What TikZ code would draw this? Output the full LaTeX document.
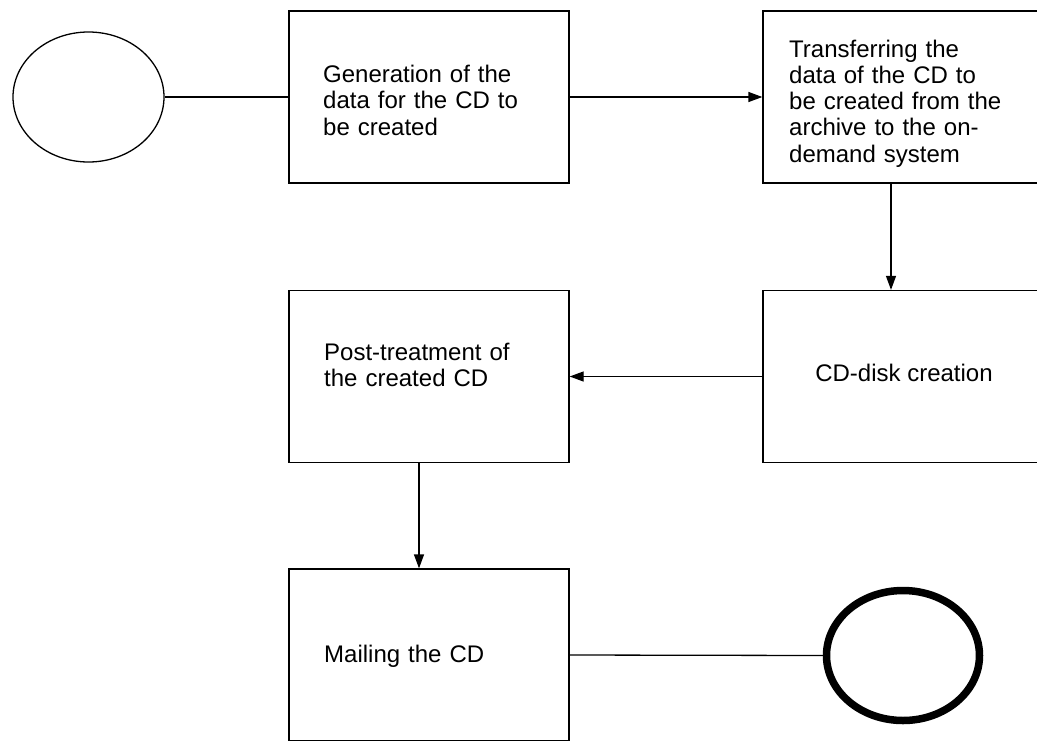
\documentclass[tikz,border=0pt]{standalone}
\usepackage{fontspec}
\setmainfont{Liberation Sans}
\usetikzlibrary{shapes.geometric,arrows.meta}
% fixed ascent for the first line of a label, so its top edge sits 18pt above the baseline
\newcommand{\firstline}{\rule{0pt}{18pt}}
\begin{document}
\begin{tikzpicture}[x=1pt,y=-1pt,
  every node/.style={font=\fontsize{24}{26.2}\selectfont},
  stepbox/.style={draw,line width=1.3pt,rectangle,minimum width=280pt,minimum height=172pt,inner sep=0pt},
  lbl/.style={anchor=north west,inner sep=0pt,text width=240pt,align=left},
  arr/.style={line width=1.3pt,-{Triangle[length=14pt,width=10pt]}},
  plain/.style={line width=1.3pt}]
  \useasboundingbox (0,0) rectangle (1037,740);
  \fill[white] (0,0) rectangle (1037,740);

  % start and end events
  \node[draw,ellipse,line width=1.3pt,minimum width=151pt,minimum height=130pt] (start) at (88.5,97) {};
  \node[draw,ellipse,line width=7.5pt,minimum width=153pt,minimum height=130pt] (finish) at (903,655.5) {};

  % process steps
  \node[stepbox] (gen) at (429,97) {};
  \node[stepbox] (transfer) at (903,97) {};
  \node[stepbox] (burn) at (903,376.5) {};
  \node[stepbox] (post) at (429,376.5) {};
  \node[stepbox] (mail) at (429,655) {};

  % step labels
  \node[lbl] (genlbl) at (323,64.5) {\firstline Generation of the\\data for the CD to\\be created};
  \node[lbl] (transferlbl) at (789,39) {\firstline Transferring the\\data of the CD to\\be created from the\\archive to the on-\\demand system};
  \node[anchor=base,inner sep=0pt] (burnlbl) at (904,381) {CD-disk creation};
  \node[lbl] (postlbl) at (324,342) {\firstline Post-treatment of\\the created CD};
  \node[lbl] (maillbl) at (324,644) {\firstline Mailing the CD};

  % flow
  \draw[plain] (start.east) -- (gen.west);
  \draw[arr] (gen.east) -- (transfer.west);
  \draw[arr] ([xshift=-12pt]transfer.south) -- ([xshift=-12pt]burn.north);
  \draw[arr] (burn.west) -- (post.east);
  \draw[arr] ([xshift=-10pt]post.south) -- ([xshift=-10pt]mail.north);
  \draw[plain] (mail.east) -- (finish.west);
\end{tikzpicture}
\end{document}
